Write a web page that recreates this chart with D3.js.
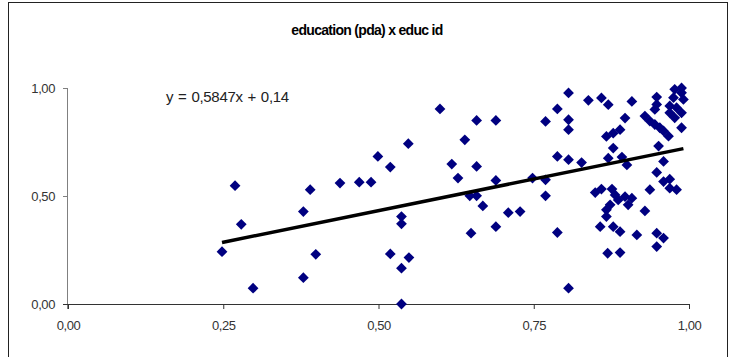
<!DOCTYPE html>
<html>
<head>
<meta charset="utf-8">
<script src="https://cdn.jsdelivr.net/npm/d3@7"></script>
<style>
  body { margin: 0; background: #fff; }
  svg { display: block; font-family: "Liberation Sans", Arial, sans-serif; }
</style>
</head>
<body>
<svg id="chart" width="734" height="357"></svg>
<script>
const title = 'education (pda) x educ id';
const equationLabel = 'y = 0,5847x + 0,14';
const trendSlope = 0.5847;
const trendIntercept = 0.14;

const xTicks = [0, 0.25, 0.5, 0.75, 1];
const yTicks = [0, 0.5, 1];

// educ id (x) vs education pda (y)
const educId = [
  0.269, 0.390, 0.379, 0.279, 0.248, 0.399, 0.379, 0.298,
  0.599, 0.548, 0.499, 0.519, 0.438, 0.469, 0.488, 0.618, 0.628,
  0.537, 0.537, 0.519, 0.549, 0.537, 0.537,
  0.639, 0.658, 0.689, 0.658, 0.689, 0.647, 0.658, 0.668, 0.709, 0.728,
  0.649, 0.689, 0.748, 0.769, 0.769, 0.769, 0.788, 0.788, 0.788,
  0.806, 0.806, 0.806, 0.806, 0.806,
  0.838, 0.859, 0.870, 0.908, 0.897, 0.867, 0.878, 0.889, 0.878, 0.827,
  0.870, 0.892, 0.900, 0.849, 0.859, 0.876, 0.881, 0.886, 0.897, 0.908,
  0.873, 0.867, 0.902, 0.867, 0.857, 0.878, 0.889, 0.916, 0.869, 0.889,
  0.948, 0.948, 0.945, 0.988, 0.977, 0.988, 0.991, 0.975, 0.969, 0.980,
  0.988, 0.969, 0.977, 0.988, 0.929, 0.937, 0.945, 0.953, 0.959, 0.967,
  0.951, 0.959, 0.948, 0.959, 0.969, 0.969, 0.980, 0.937, 0.929, 0.948,
  0.959, 0.948
];
const educationPda = [
  0.548, 0.529, 0.428, 0.369, 0.242, 0.230, 0.122, 0.073,
  0.903, 0.742, 0.683, 0.634, 0.560, 0.564, 0.564, 0.648, 0.583,
  0.405, 0.371, 0.232, 0.215, 0.166, 0.000,
  0.760, 0.850, 0.850, 0.637, 0.572, 0.501, 0.501, 0.454, 0.423, 0.428,
  0.328, 0.358, 0.583, 0.575, 0.501, 0.845, 0.903, 0.683, 0.331,
  0.977, 0.853, 0.807, 0.668, 0.073,
  0.943, 0.954, 0.923, 0.938, 0.861, 0.776, 0.791, 0.807, 0.722, 0.655,
  0.675, 0.680, 0.644, 0.516, 0.532, 0.532, 0.505, 0.482, 0.497, 0.490,
  0.459, 0.436, 0.459, 0.405, 0.358, 0.358, 0.335, 0.320, 0.235, 0.238,
  0.958, 0.924, 0.901, 1.000, 0.994, 0.978, 0.947, 0.955, 0.917, 0.909,
  0.885, 0.885, 0.862, 0.816, 0.870, 0.847, 0.831, 0.816, 0.801, 0.777,
  0.731, 0.660, 0.609, 0.567, 0.578, 0.536, 0.529, 0.529, 0.431, 0.328,
  0.305, 0.266
];

const width = 734;
const height = 357;
const margin = { top: 88, right: 45, bottom: 53, left: 68 };
const plotW = width - margin.left - margin.right;
const plotH = height - margin.top - margin.bottom;

const svg = d3.select('#chart');

svg.append('rect')
  .attr('width', width)
  .attr('height', height)
  .attr('fill', '#fff');

// outer chart border (bottom edge falls outside the picture)
svg.append('rect')
  .attr('x', 8.5)
  .attr('y', 2.5)
  .attr('width', 719)
  .attr('height', 362)
  .attr('fill', 'none')
  .attr('stroke', '#222')
  .attr('stroke-width', 1);

svg.append('text')
  .attr('x', 367)
  .attr('y', 35)
  .attr('text-anchor', 'middle')
  .attr('font-size', 14)
  .attr('font-weight', 'bold')
  .attr('letter-spacing', -0.7)
  .attr('fill', '#000')
  .text(title);

const x = d3.scaleLinear().domain([0, 1]).range([0, plotW]);
const y = d3.scaleLinear().domain([0, 1]).range([plotH, 0]);

const locale = d3.formatLocale({ decimal: ',', thousands: '.', grouping: [3], currency: ['', ''] });
const fmt = locale.format('.2f');

const g = svg.append('g')
  .attr('transform', `translate(${margin.left},${margin.top})`);

const yAxis = g.append('g')
  .call(d3.axisLeft(y).tickValues(yTicks).tickFormat(fmt).tickSize(5).tickPadding(8));
yAxis.select('.domain').attr('stroke', '#808080').attr('d', `M-0.5,0.5V${plotH + 5}`);
yAxis.selectAll('.tick line').attr('stroke', '#808080');

const xAxis = g.append('g')
  .attr('transform', `translate(0,${plotH})`)
  .call(d3.axisBottom(x).tickValues(xTicks).tickFormat(fmt).tickSize(5).tickPadding(12));
xAxis.select('.domain').attr('stroke', '#333').attr('d', `M-5,0.5H${plotW + 0.5}`);
xAxis.selectAll('.tick line').attr('stroke', '#333');

g.selectAll('.tick text')
  .attr('font-size', 13)
  .attr('letter-spacing', -0.4)
  .attr('fill', '#333')
  .attr('font-family', '"Liberation Sans", Arial, sans-serif');

const points = educId.map((v, i) => ({ x: v, y: educationPda[i] }));

const diamond = {
  draw(context, size) {
    const r = Math.sqrt(size) / 2 * Math.SQRT2;
    context.moveTo(0, -r);
    context.lineTo(r, 0);
    context.lineTo(0, r);
    context.lineTo(-r, 0);
    context.closePath();
  }
};

g.selectAll('.dot')
  .data(points)
  .enter()
  .append('path')
  .attr('class', 'dot')
  .attr('transform', (d) => `translate(${x(d.x)},${y(d.y)})`)
  .attr('d', d3.symbol().type(diamond).size(58))
  .attr('fill', '#000080');

// linear trend line over the x extent of the data
const xExtent = d3.extent(points, (d) => d.x);
const trend = xExtent.map((v) => ({ x: v, y: trendSlope * v + trendIntercept }));
g.append('path')
  .datum(trend)
  .attr('fill', 'none')
  .attr('stroke', '#000')
  .attr('stroke-width', 3.5)
  .attr('d', d3.line().x((d) => x(d.x)).y((d) => y(d.y)));

svg.append('text')
  .attr('x', 166)
  .attr('y', 102)
  .attr('font-size', 15)
  .attr('letter-spacing', -0.3)
  .attr('word-spacing', 1)
  .attr('fill', '#222')
  .text(equationLabel);
</script>
</body>
</html>
